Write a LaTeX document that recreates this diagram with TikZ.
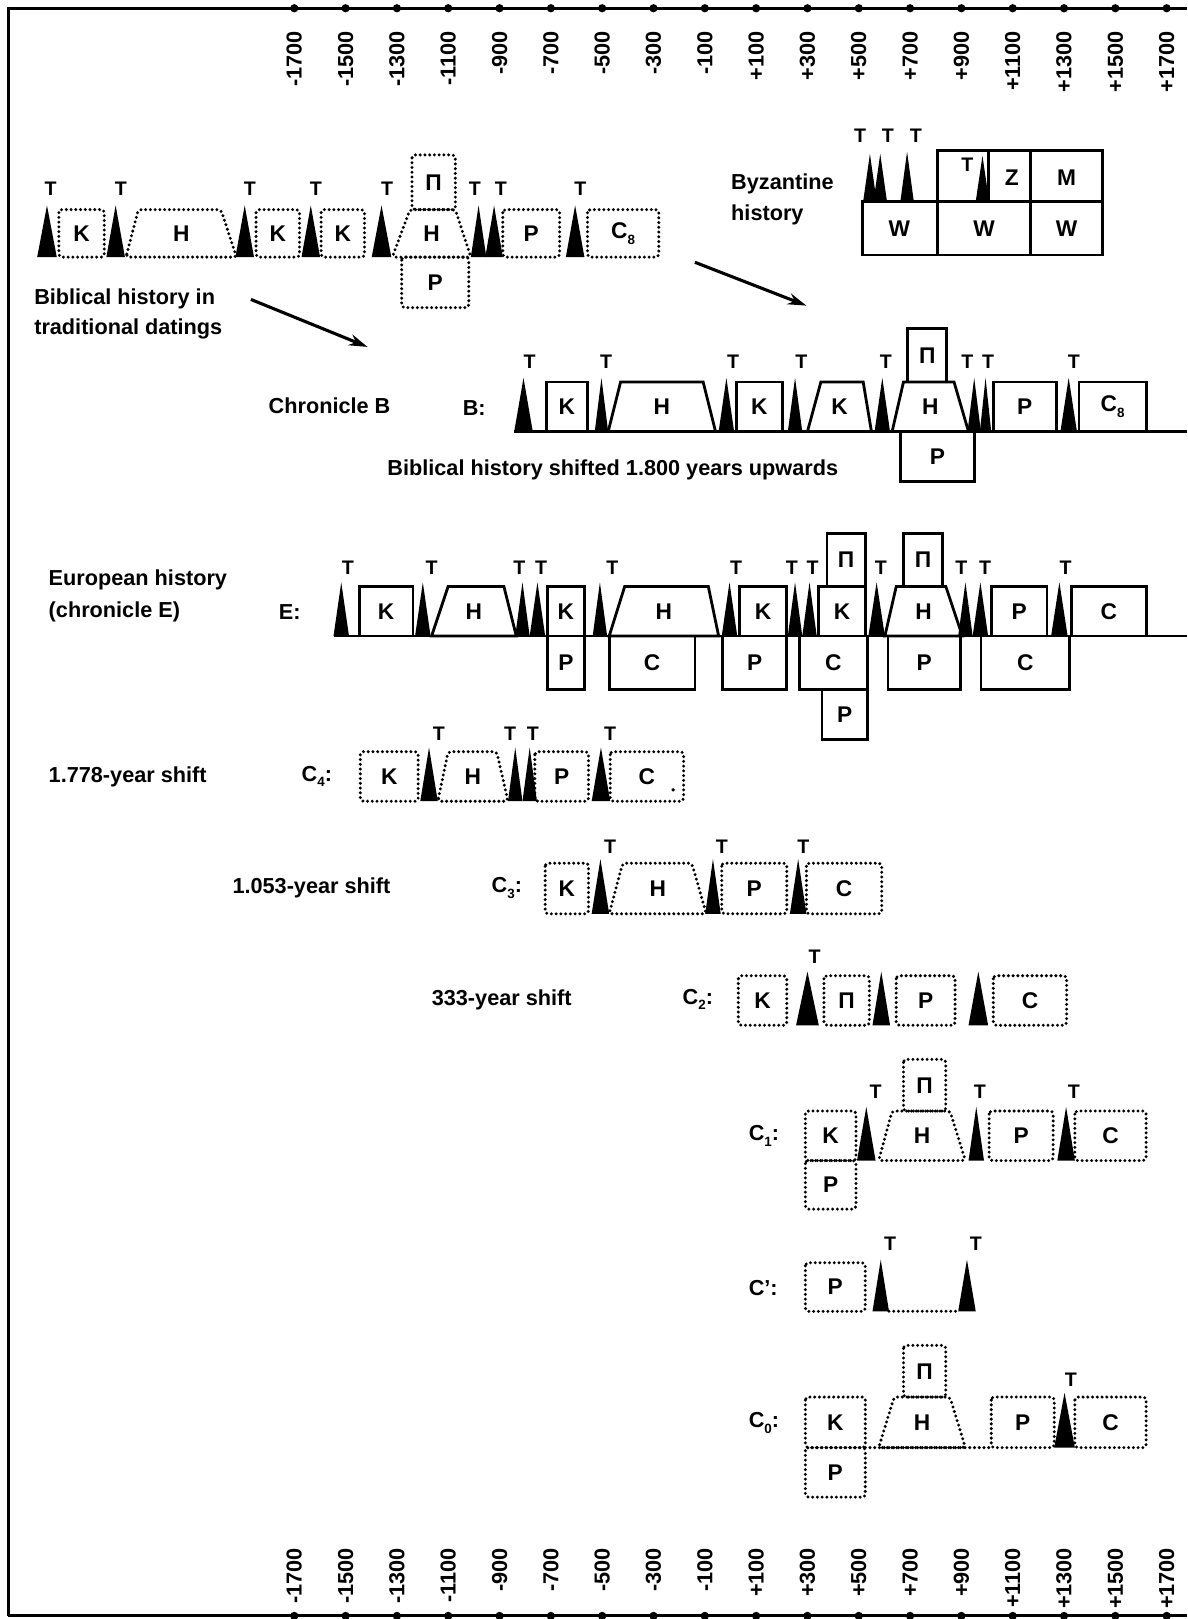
\documentclass[tikz,border=0pt]{standalone}
\usepackage{fontspec}
\setmainfont{Liberation Sans}
\usetikzlibrary{arrows.meta}
\tikzset{
 dotb/.style={line width=3.2pt, dash pattern=on 0pt off 4.6pt, line cap=round, rounded corners=3pt},
 solb/.style={line width=2.7pt},
 bx/.style={font=\fontsize{22}{22}\selectfont\bfseries, inner sep=0pt},
 tl/.style={font=\fontsize{19}{19}\selectfont\bfseries, inner sep=0pt},
 lbl/.style={font=\fontsize{21}{21}\selectfont\bfseries, inner sep=0pt, anchor=west},
 ax/.style={font=\fontsize{21}{21}\selectfont\bfseries, inner sep=0pt, rotate=90, anchor=east},
 arr/.style={line width=3pt, -{Stealth[length=18pt,width=11pt]}},
}
\newcommand\BX[7]{\draw[#1] (#3,#4) rectangle (#5,#6); \node[bx] (#2) at ({(#3+#5)/2},{(#4+#6)/2}) {#7};}
\newcommand\TZ[9]{\draw[#1] (#3,#8) -- (#4,#7) -- (#5,#7) -- (#6,#8) -- cycle; \node[bx] (#2) at ({(#3+#6)/2},{(#7+#8)/2}) {#9};}
\newcommand\TR[4]{\fill (#1,#4) -- ({(#1+#2)/2},#3) -- (#2,#4) -- cycle;}
\newcommand\TL[3]{\node[tl] (#1) at (#2,#3) {T};}
\newcommand\sbs[1]{\raisebox{-0.25em}{\fontsize{13}{13}\selectfont #1}}
\begin{document}
\begin{tikzpicture}[x=1pt,y=-1pt]
\useasboundingbox (0,0) rectangle (1150,1568);
% frame and axes
\draw[line width=2.8pt] (8,1565) -- (8,8) -- (1150,8);
\draw[line width=2.8pt] (8,1565) -- (1150,1565);
\foreach \lab [count=\i from 0] in {-1700,-1500,-1300,-1100,-900,-700,-500,-300,-100,+100,+300,+500,+700,+900,+1100,+1300,+1500,+1700}{
  \fill ({285+\i*49.7},8) circle[radius=4pt];
  \fill ({285+\i*49.7},1565) circle[radius=4pt];
  \node[ax] (top\i) at ({285+\i*49.7},30) {\lab};
  \node[ax] (bot\i) at ({285+\i*49.7},1499) {\lab};
}
% Biblical history (traditional)
\TR{36}{55}{199}{249} \TL{a1}{49}{183}
\BX{dotb}{aK1}{57}{203}{101}{249}{K}
\TR{103}{121}{199}{249} \TL{a2}{117}{183}
\TZ{dotb}{aH1}{122}{134}{214}{229}{203}{249}{H}
\TR{228}{246}{199}{249} \TL{a3}{242}{183}
\BX{dotb}{aK2}{248}{203}{290}{249}{K}
\TR{292}{310}{199}{249} \TL{a4}{306}{183}
\BX{dotb}{aK3}{311}{203}{353}{249}{K}
\TR{360}{379}{199}{249} \TL{a5}{375}{183}
\BX{dotb}{aPi}{399}{150}{441}{203}{Π}
\TZ{dotb}{aH2}{380}{397}{441}{456}{203}{249}{H}
\BX{dotb}{aPb}{389}{249}{454}{298}{P}
\TR{456}{471}{199}{249} \TL{a6}{460}{183}
\TR{470}{487}{199}{249} \TL{a7}{485}{183}
\BX{dotb}{aP}{487}{203}{542}{249}{P}
\TR{548}{566}{199}{249} \TL{a8}{562}{183}
\BX{dotb}{aC}{569}{203}{638}{249}{C\sbs{8}}
\node[lbl] (bib1) at (33,289) {Biblical history in};
\node[lbl] (bib2) at (33,319) {traditional datings};
% Byzantine history
\draw[solb] (835,195) rectangle (1068,247);
\draw[solb] (908,146) rectangle (1068,195);
\draw[solb] (908,195) -- (908,247);
\draw[solb] (998,146) -- (998,247);
\draw[solb] (957,146) -- (957,195);
\TR{836}{849}{149}{195} \TR{846}{859}{149}{195} \TR{872}{885}{147}{195}
\TR{945}{958}{151}{195}
\TL{y1}{833}{131} \TL{y2}{860}{131} \TL{y3}{887}{131} \TL{y4}{937}{160}
\node[bx] (yZ) at (980,172) {Z};
\node[bx] (yM) at (1033,172) {M};
\node[bx] (yW1) at (871,221) {W};
\node[bx] (yW2) at (953,221) {W};
\node[bx] (yW3) at (1033,221) {W};
\node[lbl] (byz1) at (708,178) {Byzantine};
\node[lbl] (byz2) at (708,208) {history};
% arrows
\coordinate (ar1s) at (243,290); \coordinate (ar1e) at (356,336);
\coordinate (ar2s) at (673,254); \coordinate (ar2e) at (781,296);
\draw[arr] (ar1s) -- (ar1e);
\draw[arr] (ar2s) -- (ar2e);
% Chronicle B
\draw[solb] (498,418) -- (1150,418);
\TR{498}{516}{366}{418} \TL{b1}{513}{350}
\BX{solb}{bK1}{529}{370}{569}{418}{K}
\TR{576}{589}{366}{418} \TL{b2}{587}{350}
\TZ{solb}{bH1}{589}{601}{681}{693}{370}{418}{H}
\TR{696}{711}{366}{418} \TL{b3}{710}{350}
\BX{solb}{bK2}{713}{370}{758}{418}{K}
\TR{763}{777}{366}{418} \TL{b4}{776}{350}
\TZ{solb}{bK3}{782}{795}{836}{844}{370}{418}{K}
\TR{847}{862}{366}{418} \TL{b5}{858}{350}
\BX{solb}{bPi}{879}{318}{917}{370}{Π}
\TZ{solb}{bH2}{864}{875}{924}{938}{370}{418}{H}
\BX{solb}{bPb}{872}{418}{944}{466}{P}
\TR{937}{950}{366}{418} \TL{b6}{937}{350}
\TR{949}{960}{366}{418} \TL{b7}{957}{350}
\BX{solb}{bP}{962}{370}{1023}{418}{P}
\TR{1027}{1043}{366}{418} \TL{b8}{1040}{350}
\BX{solb}{bC}{1045}{370}{1110}{418}{C\sbs{8}}
\node[lbl] (chb) at (260,393) {Chronicle B};
\node[lbl] (bcol) at (448,395) {B:};
\node[lbl] (bshift) at (375,455) {Biblical history shifted 1.800 years upwards};
% Chronicle E
\draw[solb] (323,616) -- (1150,616);
\TR{323}{338}{564}{616} \TL{e1}{337}{550}
\BX{solb}{eK1}{348}{568}{400}{616}{K}
\TR{402}{417}{564}{616} \TL{e2}{418}{550}
\TZ{solb}{eH1}{418}{434}{488}{500}{568}{616}{H}
\TR{499}{513}{564}{616} \TL{e3}{503}{550}
\TR{513}{528}{564}{616} \TL{e4}{524}{550}
\BX{solb}{eK2}{530}{568}{566}{616}{K}
\BX{solb}{eP1}{530}{616}{566}{668}{P}
\TR{574}{588}{564}{616} \TL{e5}{593}{550}
\TZ{solb}{eH2}{590}{605}{686}{696}{568}{616}{H}
\BX{solb}{eC1}{590}{616}{673}{668}{C}
\TR{699}{714}{564}{616} \TL{e6}{713}{550}
\BX{solb}{eK3}{716}{568}{762}{616}{K}
\BX{solb}{eP2}{700}{616}{762}{668}{P}
\TR{763}{777}{564}{616} \TL{e7}{767}{550}
\TR{777}{791}{564}{616} \TL{e8}{787}{550}
\BX{solb}{ePi1}{801}{517}{838}{568}{Π}
\BX{solb}{eK4}{793}{568}{838}{616}{K}
\BX{solb}{eC2}{774}{616}{840}{668}{C}
\BX{solb}{eP3}{796}{668}{840}{716}{P}
\TR{841}{857}{564}{616} \TL{e9}{853}{550}
\BX{solb}{ePi2}{875}{517}{913}{568}{Π}
\TZ{solb}{eH3}{857}{868}{916}{932}{568}{616}{H}
\BX{solb}{eP4}{860}{616}{930}{668}{P}
\TR{928}{942}{564}{616} \TL{e10}{931}{550}
\TR{942}{957}{564}{616} \TL{e11}{954}{550}
\BX{solb}{eP5}{960}{568}{1014}{616}{P}
\BX{solb}{eC3}{950}{616}{1036}{668}{C}
\TR{1018}{1034}{564}{616} \TL{e12}{1032}{550}
\BX{solb}{eC4}{1038}{568}{1110}{616}{C}
\node[lbl] (eur1) at (47,562) {European history};
\node[lbl] (eur2) at (47,593) {(chronicle E)};
\node[lbl] (ecol) at (270,593) {E:};
% C4
\BX{dotb}{fK}{349}{728}{405}{776}{K}
\TR{407}{424}{724}{776} \TL{f1}{425}{711}
\TZ{dotb}{fH}{424}{434}{481}{492}{728}{776}{H}
\TR{492}{506}{724}{776} \TL{f2}{494}{711}
\TR{506}{520}{724}{776} \TL{f3}{516}{711}
\BX{dotb}{fP}{518}{728}{570}{776}{P}
\TR{573}{591}{724}{776} \TL{f4}{591}{711}
\BX{dotb}{fC}{591}{728}{662}{776}{C}
\fill (652,765) circle[radius=1.8pt];
\node[lbl] (sh4) at (47,752) {1.778-year shift};
\node[lbl] (c4) at (292,752) {C\sbs{4}:};
% C3
\BX{dotb}{gK}{528}{836}{570}{885}{K}
\TR{573}{590}{832}{885} \TL{g1}{591}{820}
\TZ{dotb}{gH}{590}{603}{670}{684}{836}{885}{H}
\TR{683}{698}{832}{885} \TL{g2}{699}{820}
\BX{dotb}{gP}{699}{836}{762}{885}{P}
\TR{765}{781}{832}{885} \TL{g3}{778}{820}
\BX{dotb}{gC}{781}{836}{854}{885}{C}
\node[lbl] (sh3) at (225,860) {1.053-year shift};
\node[lbl] (c3) at (476,860) {C\sbs{3}:};
% C2
\BX{dotb}{hK}{715}{945}{762}{993}{K}
\TR{771}{793}{941}{993} \TL{h1}{789}{927}
\BX{dotb}{hPi}{798}{945}{842}{993}{Π}
\TR{845}{862}{941}{993}
\BX{dotb}{hP}{868}{945}{925}{993}{P}
\TR{938}{957}{941}{993}
\BX{dotb}{hC}{962}{945}{1033}{993}{C}
\node[lbl] (sh2) at (418,968) {333-year shift};
\node[lbl] (c2) at (661,968) {C\sbs{2}:};
% C1
\BX{dotb}{iK}{780}{1076}{829}{1124}{K}
\BX{dotb}{iPb}{780}{1124}{829}{1171}{P}
\TR{830}{848}{1072}{1124} \TL{i1}{848}{1057}
\BX{dotb}{iPi}{875}{1026}{916}{1076}{Π}
\TZ{dotb}{iH}{851}{864}{920}{935}{1076}{1124}{H}
\TR{938}{953}{1072}{1124} \TL{i2}{949}{1057}
\BX{dotb}{iP}{958}{1076}{1020}{1124}{P}
\TR{1024}{1041}{1072}{1124} \TL{i3}{1040}{1057}
\BX{dotb}{iC}{1041}{1076}{1110}{1124}{C}
\node[lbl] (c1) at (725,1100) {C\sbs{1}:};
% C'
\BX{dotb}{jP}{780}{1223}{838}{1270}{P}
\TR{845}{861}{1220}{1270} \TL{j1}{862}{1205}
\draw[dotb] (861,1270) -- (928,1270);
\TR{928}{945}{1220}{1270} \TL{j2}{945}{1205}
\node[lbl] (cp) at (725,1247) {C':};
% C0
\BX{dotb}{kK}{780}{1353}{838}{1402}{K}
\BX{dotb}{kPb}{780}{1402}{838}{1450}{P}
\BX{dotb}{kPi}{875}{1303}{916}{1353}{Π}
\TZ{dotb}{kH}{851}{866}{920}{935}{1353}{1402}{H}
\draw[dotb] (838,1402) -- (960,1402);
\BX{dotb}{kP}{960}{1353}{1021}{1402}{P}
\TR{1021}{1041}{1349}{1402} \TL{k1}{1037}{1336}
\BX{dotb}{kC}{1041}{1353}{1110}{1402}{C}
\node[lbl] (c0) at (725,1378) {C\sbs{0}:};
\end{tikzpicture}
\end{document}
